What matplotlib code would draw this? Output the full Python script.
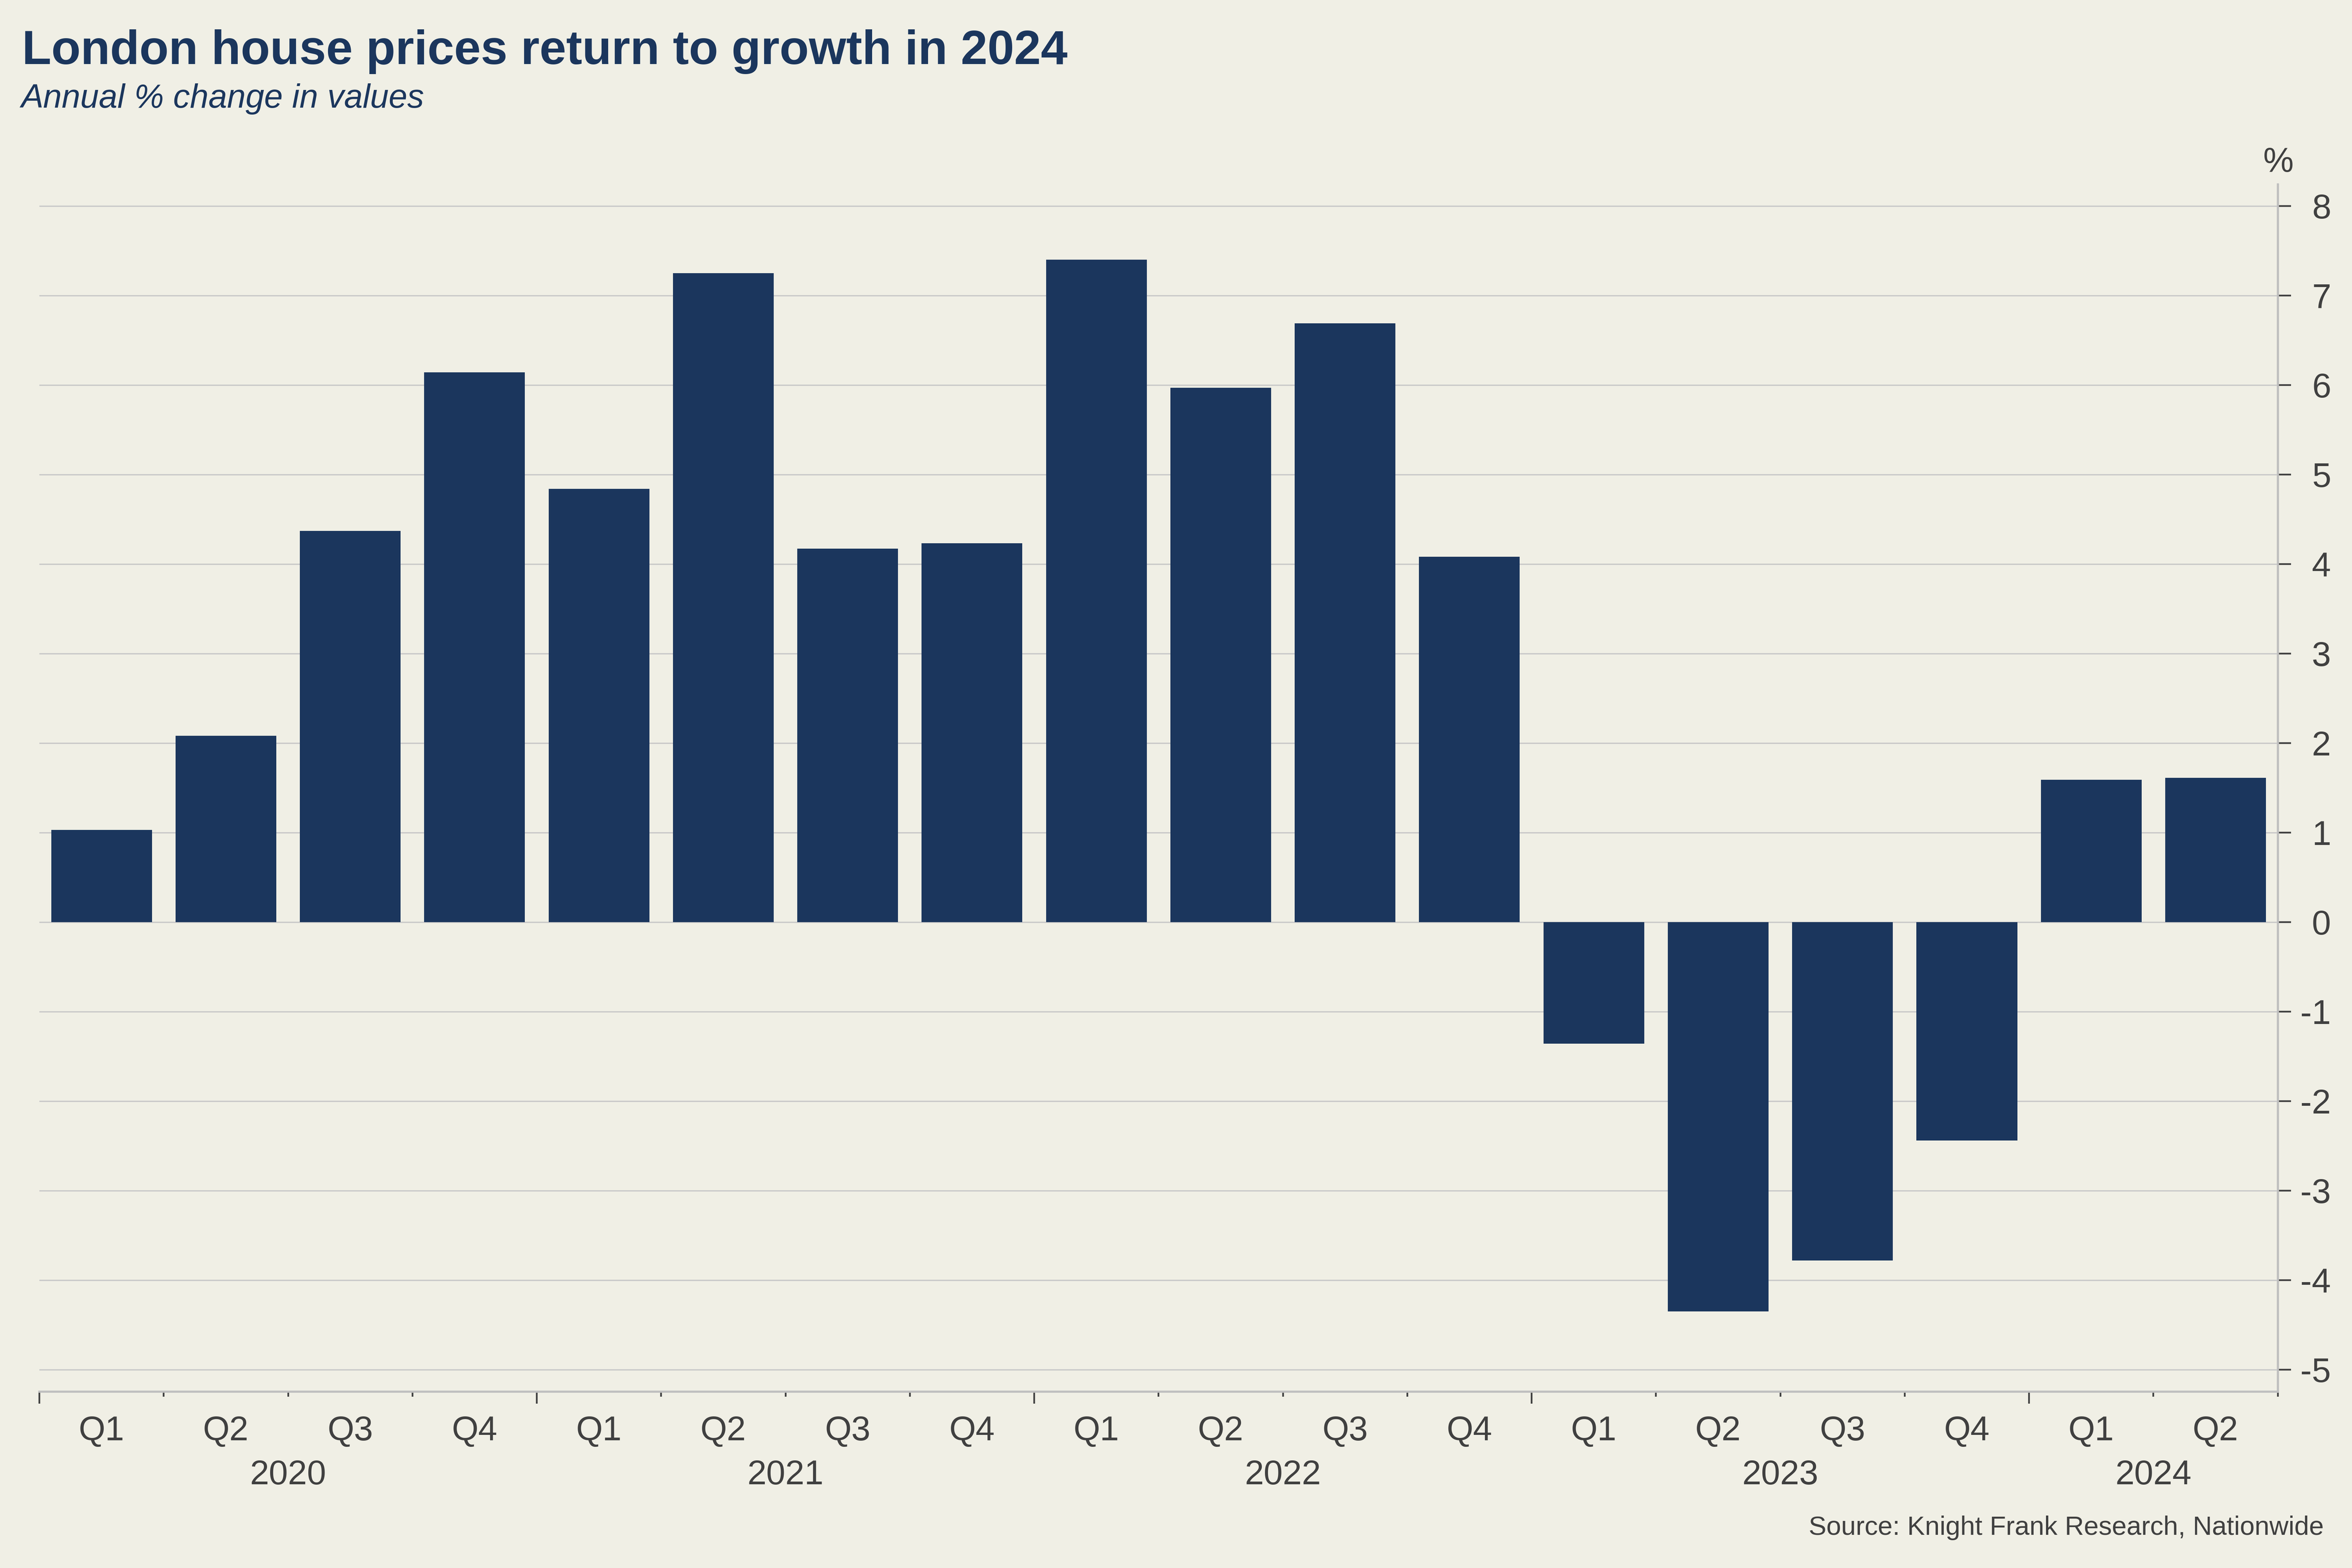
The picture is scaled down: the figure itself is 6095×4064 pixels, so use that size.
import numpy as np
import matplotlib
matplotlib.use('Agg')
import matplotlib.pyplot as plt
from matplotlib.ticker import FixedLocator

# Data
years = ['2020', '2021', '2022', '2023', '2024']
quarters = ['Q1', 'Q2', 'Q3', 'Q4', 'Q1', 'Q2', 'Q3', 'Q4', 'Q1', 'Q2', 'Q3', 'Q4',
            'Q1', 'Q2', 'Q3', 'Q4', 'Q1', 'Q2']
quarters_per_year = [4, 4, 4, 4, 2]
annual_change = [1.03, 2.08, 4.37, 6.14, 4.84, 7.25, 4.17, 4.23, 7.40, 5.97,
                 6.69, 4.08, -1.36, -4.35, -3.78, -2.44, 1.59, 1.61]
y_ticks = list(range(-5, 9))

navy = '#1b365d'
bg = '#f0efe5'
text_col = '#404040'
grid_col = '#c8c8c8'

plt.rcParams['font.family'] = ['Liberation Sans', 'DejaVu Sans']

fig = plt.figure(figsize=(6095 / 400, 4064 / 400), dpi=400, facecolor=bg)
ax = fig.add_axes([0.01674, 0.1125, 0.9517, 0.7699])
ax.set_facecolor(bg)

x = np.arange(len(annual_change))
ax.bar(x, annual_change, 0.81, color=navy, zorder=3)

ax.set_xlim(-0.5, len(annual_change) - 0.5)
ax.set_ylim(-5.246, 8.24)

# y axis on the right
ax.yaxis.tick_right()
ax.set_yticks(y_ticks)
ax.set_yticklabels([str(t) for t in y_ticks])
ax.tick_params(axis='y', which='major', length=6.1, width=0.8, color=text_col,
               labelsize=16, labelcolor=text_col, pad=18.7)
for lbl in ax.get_yticklabels():
    lbl.set_ha('right')
ax.grid(axis='y', color=grid_col, linewidth=0.6, zorder=0)
ax.set_axisbelow(True)

# x ticks at the quarter boundaries, longer at the year boundaries
bounds = np.cumsum([0] + quarters_per_year) - 0.5
year_edges = list(bounds[:-1])
quarter_edges = [b for b in np.arange(-0.5, len(annual_change)) if b not in year_edges]
ax.xaxis.set_major_locator(FixedLocator(year_edges))
ax.xaxis.set_minor_locator(FixedLocator(quarter_edges))
ax.set_xticklabels([])
ax.tick_params(axis='x', which='major', length=5.6, width=0.8, color=text_col)
ax.tick_params(axis='x', which='minor', length=2.4, width=0.8, color=text_col)

for side in ['left', 'top']:
    ax.spines[side].set_visible(False)
for side in ['right', 'bottom']:
    ax.spines[side].set_color('#bfbfbf')
    ax.spines[side].set_linewidth(1.0)

# quarter and year labels
for i, q in enumerate(quarters):
    ax.annotate(q, xy=(i, 0), xycoords=('data', 'axes fraction'), xytext=(0, -11),
                textcoords='offset points', ha='center', va='top', fontsize=16, color=text_col)
for j, yr in enumerate(years):
    centre = (bounds[j] + bounds[j + 1]) / 2
    ax.annotate(yr, xy=(centre, 0), xycoords=('data', 'axes fraction'), xytext=(0, -31.5),
                textcoords='offset points', ha='center', va='top', fontsize=16, color=text_col)

fig.text(0.00935, 0.9592, 'London house prices return to growth in 2024', fontsize=22.4,
         fontweight='bold', color=navy, ha='left', va='baseline')
fig.text(0.00886, 0.9313, 'Annual % change in values', fontsize=15.6, fontstyle='italic',
         color=navy, ha='left', va='baseline')
fig.text(0.9687, 0.8905, '%', fontsize=16, color=text_col, ha='center', va='baseline')
fig.text(0.988, 0.0335, 'Source: Knight Frank Research, Nationwide', fontsize=12.35,
         color=text_col, ha='right', va='top')

fig.savefig('out.png', dpi=400, facecolor=bg)
